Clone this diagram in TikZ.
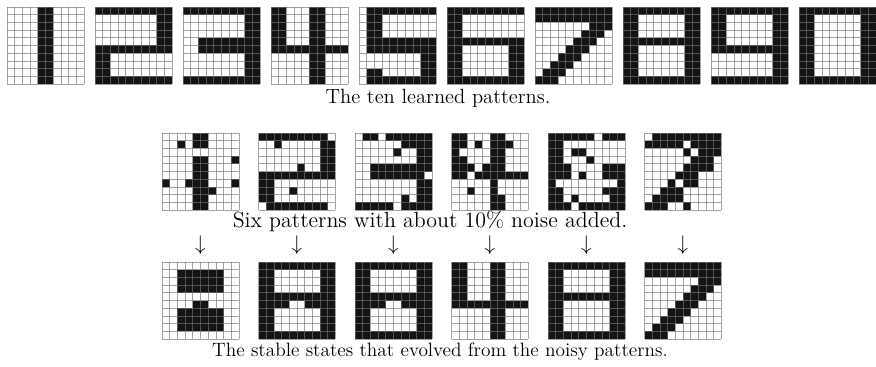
\documentclass[tikz,border=0pt]{standalone}
\usepackage{amsmath,amssymb}
\usepackage{tikz}

\tikzset{
  cellon/.style={fill=black!92},
  cellgrid/.style={draw=black!55, line width=0.35pt, opacity=0.65},
  caption/.style={font=\fontsize{11.7}{14}\selectfont, inner sep=0pt},
  downarrow/.style={font=\fontsize{11.7}{14}\selectfont, inner sep=0pt}
}

% one row of a 10x10 pattern, given as a string of 0/1
\newcount\cellcol
\def\cellrow#1{\cellcol=0 \cellrowi#1\relax}
\def\cellrowi#1{%
  \ifx#1\relax\else
    \ifnum#1=1 \fill[cellon] (\the\cellcol,\rowno) rectangle ++(1,1);\fi
    \advance\cellcol by 1
    \expandafter\cellrowi
  \fi}

% #1,#2 = top left corner, #3 = the ten rows
\newcommand{\netpattern}[3]{%
  \begin{scope}[shift={(#1,#2)}, x=0.154cm, y=-0.154cm]
    \fill[white] (0,0) rectangle (10,10);
    \foreach \bits [count=\rowno from 0] in {#3}
      {\expandafter\cellrow\expandafter{\bits}}
    \foreach \k in {0,...,10} {
      \draw[cellgrid] (\k,0) -- (\k,10);
      \draw[cellgrid] (0,\k) -- (10,\k);
    }
  \end{scope}}

\begin{document}
\begin{tikzpicture}[x=0.02cm, y=-0.02cm]

\useasboundingbox (0,0) rectangle (876,366);

% The ten learned patterns
\netpattern{7}{7}{0000110000,0000110000,0000110000,0000110000,0000110000,
  0000110000,0000110000,0000110000,0000110000,0000110000}
\netpattern{95}{7}{1111111111,0000000011,0000000011,0000000011,0000000011,
  1111111111,1100000000,1100000000,1100000000,1111111111}
\netpattern{183}{7}{1111111111,0000000011,0000000011,0000000011,0011111111,
  0011111111,0000000011,0000000011,0000000011,1111111111}
\netpattern{271}{7}{1100011000,1100011000,1100011000,1100011000,1100011000,
  1111111111,0000011000,0000011000,0000011000,0000011000}
\netpattern{359}{7}{0111111111,0110000000,0110000000,0110000000,0111111111,
  0111111111,0000000011,0000000011,0110000011,0111111111}
\netpattern{447}{7}{1111111111,1100000000,1100000000,1100000000,1111111111,
  1100000011,1100000011,1100000011,1100000011,1111111111}
\netpattern{535}{7}{1111111111,1111111111,0000000111,0000001110,0000011100,
  0000111000,0001110000,0011100000,0111000000,1110000000}
\netpattern{623}{7}{1111111111,1100000011,1100000011,1100000011,1111111111,
  1100000011,1100000011,1100000011,1100000011,1111111111}
\netpattern{711}{7}{1111111111,1100000011,1100000011,1100000011,1100000011,
  1111111111,0000000011,0000000011,0000000011,1111111111}
\netpattern{799}{7}{1111111111,1100000011,1100000011,1100000011,1100000011,
  1100000011,1100000011,1100000011,1100000011,1111111111}

\node[caption] (learned) at (438,98) {The ten learned patterns.};

% Six noisy patterns
\netpattern{162}{133}{0000110000,0010110000,0000000000,0000110001,0000110000,
  0000110000,1001110001,0000111000,0000110000,0000110000}
\netpattern{258.5}{133}{1111111110,0010000011,0000000011,0000000011,0000010011,
  1111111111,1100000000,1100100000,1100000000,0111111110}
\netpattern{355}{133}{0110111111,0000001111,0000010011,0000000011,0011111111,
  0011111110,0000000011,0000000011,0000001011,1111101111}
\netpattern{451.5}{133}{1100011000,1101011100,1000011000,1100011000,1110111000,
  1101111111,0000010000,0010010000,0000011000,0000011000}
\netpattern{548}{133}{1111110111,1100000000,1101100000,1100010000,1110000111,
  1110100111,1000000001,1100000111,1101000011,1110111111}
\netpattern{644.5}{133}{0111111111,1111101111,0000010111,0000001110,0000011110,
  0000111000,0001011000,0011100000,0111100000,1110010000}

\node[caption, font=\fontsize{12.5}{15}\selectfont] (noisy) at (430,221)
  {Six patterns with about 10\% noise added.};

% Arrows
\foreach \i in {0,...,5}
  \node[downarrow] (arrow\i) at (200.5+96.5*\i,245) {$\downarrow$};

% Stable states
\netpattern{162}{262}{0000000000,0011111100,0011111100,0011111100,0000000000,
  0000110000,0011111100,0011111100,0011111100,0000000000}
\netpattern{258.5}{262}{1111111111,1100000011,1100000011,1100000011,1111111111,
  1111001111,1100000011,1100000011,1100000011,1111111111}
\netpattern{355}{262}{1111111111,1100000011,1100000011,1100000011,1111111111,
  1111001111,1100000011,1100000011,1100000011,1111111111}
\netpattern{451.5}{262}{1100011000,1100011000,1100011000,1100011000,1100011000,
  1111111111,0000011000,0000011000,0000011000,0000011000}
\netpattern{548}{262}{1111111111,1100000011,1100000011,1100000011,1111111111,
  1100000011,1100000011,1100000011,1100000011,1111111111}
\netpattern{644.5}{262}{1111111111,1111111111,0000000111,0000001110,0000011100,
  0000111000,0001110000,0011100000,0111000000,1110000000}

\node[caption, font=\fontsize{11}{13}\selectfont] (stable) at (440,352)
  {The stable states that evolved from the noisy patterns.};

\end{tikzpicture}
\end{document}
